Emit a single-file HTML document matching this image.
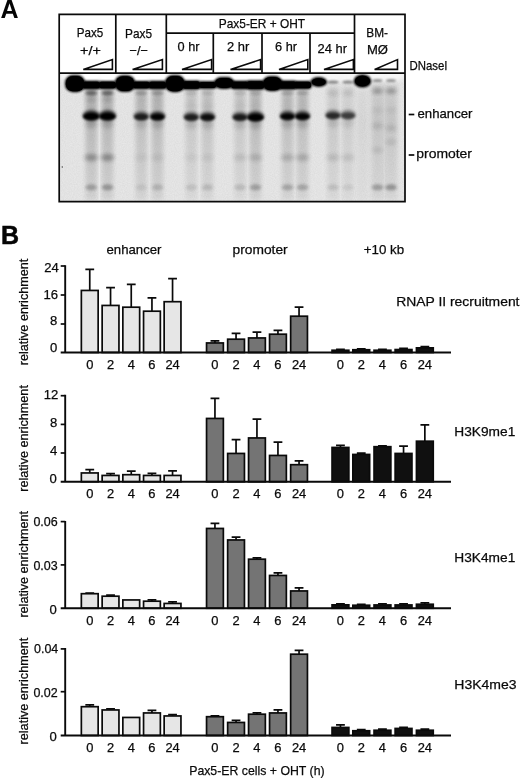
<!DOCTYPE html>
<html><head><meta charset="utf-8"><title>Figure</title>
<style>
html,body{margin:0;padding:0;background:#fff}
body{width:520px;height:778px;position:relative;overflow:hidden;font-family:"Liberation Sans", sans-serif}
</style></head><body>
<svg width="520" height="778" viewBox="0 0 520 778" style="position:absolute;left:0;top:0">
<defs>
<pattern id="dots" width="2" height="2" patternUnits="userSpaceOnUse"><rect width="2" height="2" fill="#e9e9e9"/><rect width="1" height="1" fill="#dcdcdc"/></pattern>
<linearGradient id="lg" x1="0" y1="0" x2="0" y2="1"><stop offset="0" stop-color="#000" stop-opacity="0.75"/><stop offset="0.3" stop-color="#000" stop-opacity="1"/><stop offset="0.65" stop-color="#000" stop-opacity="0.7"/><stop offset="1" stop-color="#000" stop-opacity="0.45"/></linearGradient>
<clipPath id="gelclip"><rect x="59.2" y="73.1" width="345.8" height="128.5"/></clipPath>
<filter id="noise" x="0" y="0" width="100%" height="100%"><feTurbulence type="fractalNoise" baseFrequency="0.9" numOctaves="2" seed="3"/><feColorMatrix type="matrix" values="0 0 0 0 0  0 0 0 0 0  0 0 0 0 0  1.6 0 0 0 -0.3"/></filter>
<filter id="b0" x="-50%" y="-50%" width="200%" height="200%"><feGaussianBlur stdDeviation="0.7"/></filter>
<filter id="b1" x="-50%" y="-50%" width="200%" height="200%"><feGaussianBlur stdDeviation="1.2"/></filter>
<filter id="b15" x="-50%" y="-50%" width="200%" height="200%"><feGaussianBlur stdDeviation="1.6"/></filter>
<filter id="b2" x="-50%" y="-50%" width="200%" height="200%"><feGaussianBlur stdDeviation="2"/></filter>
<filter id="b3" x="-50%" y="-50%" width="200%" height="200%"><feGaussianBlur stdDeviation="3.5"/></filter>
</defs>
<g clip-path="url(#gelclip)">
<rect x="59.2" y="73.1" width="345.8" height="128.5" fill="#e7e7e7"/>
<rect x="59.2" y="73.1" width="345.8" height="128.5" fill="#000" opacity="0.035" filter="url(#noise)"/>
<rect x="59.2" y="70.1" width="345.8" height="9" fill="#f6f6f6" filter="url(#b2)"/>
<ellipse cx="91.25" cy="76.3" rx="9" ry="5" fill="#fff" filter="url(#b1)"/>
<ellipse cx="107.5" cy="76.3" rx="9" ry="5" fill="#fff" filter="url(#b1)"/>
<ellipse cx="141.25" cy="76.3" rx="9" ry="5" fill="#fff" filter="url(#b1)"/>
<ellipse cx="157.5" cy="76.3" rx="9" ry="5" fill="#fff" filter="url(#b1)"/>
<ellipse cx="191.25" cy="76.3" rx="9" ry="5" fill="#fff" filter="url(#b1)"/>
<ellipse cx="207.5" cy="76.3" rx="9" ry="5" fill="#fff" filter="url(#b1)"/>
<ellipse cx="240" cy="76.3" rx="9" ry="5" fill="#fff" filter="url(#b1)"/>
<ellipse cx="255.5" cy="76.3" rx="9" ry="5" fill="#fff" filter="url(#b1)"/>
<ellipse cx="287.5" cy="76.3" rx="9" ry="5" fill="#fff" filter="url(#b1)"/>
<ellipse cx="302.5" cy="76.3" rx="9" ry="5" fill="#fff" filter="url(#b1)"/>
<ellipse cx="333" cy="77.5" rx="8" ry="4" fill="#f6f6f6" filter="url(#b2)"/>
<ellipse cx="348" cy="77.5" rx="8" ry="4" fill="#f6f6f6" filter="url(#b2)"/>
<ellipse cx="377.5" cy="77.5" rx="8" ry="4" fill="#f6f6f6" filter="url(#b2)"/>
<ellipse cx="391" cy="77.5" rx="8" ry="4" fill="#f6f6f6" filter="url(#b2)"/>
<rect x="98.575" y="90" width="1.6" height="110" fill="#fff" opacity="0.4" filter="url(#b0)"/>
<rect x="148.575" y="90" width="1.6" height="110" fill="#fff" opacity="0.18" filter="url(#b0)"/>
<rect x="198.575" y="90" width="1.6" height="110" fill="#fff" opacity="0.18" filter="url(#b0)"/>
<rect x="246.95" y="90" width="1.6" height="110" fill="#fff" opacity="0.18" filter="url(#b0)"/>
<rect x="294.2" y="90" width="1.6" height="110" fill="#fff" opacity="0.18" filter="url(#b0)"/>
<rect x="339.7" y="90" width="1.6" height="110" fill="#fff" opacity="0.18" filter="url(#b0)"/>
<rect x="383.45" y="90" width="1.6" height="110" fill="#fff" opacity="0.18" filter="url(#b0)"/>
<rect x="65" y="74.99999999999999" width="20" height="17.2" rx="8" ry="7.38" fill="#000" filter="url(#b1)"/>
<rect x="65.8" y="75.99999999999999" width="18.4" height="15.2" rx="7" ry="6.969999999999999" fill="#000" filter="url(#b0)"/>
<rect x="85.5" y="86" width="11.5" height="114" fill="url(#lg)" opacity="0.190" filter="url(#b2)"/>
<rect x="82.05" y="80.75" width="18.4" height="8.5" rx="3.5" ry="3.5" fill="#000" filter="url(#b1)"/>
<rect x="82.65" y="81.64999999999999" width="17.2" height="6.7" rx="2.7" ry="2.7" fill="#000" filter="url(#b0)"/>
<ellipse cx="91.25" cy="93" rx="6.2" ry="2.6" fill="#000" opacity="0.5" filter="url(#b15)"/>
<ellipse cx="91.25" cy="99" rx="6" ry="2.5" fill="#000" opacity="0.225" filter="url(#b2)"/>
<ellipse cx="91.25" cy="106" rx="6" ry="4" fill="#000" opacity="0.08" filter="url(#b2)"/>
<ellipse cx="91.25" cy="115.39999999999999" rx="8.736" ry="5.6000000000000005" fill="#000" opacity="0.6" filter="url(#b15)"/>
<ellipse cx="91.25" cy="116.3" rx="8.064000000000002" ry="3.696" fill="#000" opacity="1.0" filter="url(#b1)"/>
<ellipse cx="91.25" cy="123.3" rx="5.8" ry="5" fill="#000" opacity="0.16" filter="url(#b2)"/>
<ellipse cx="91.25" cy="157.5" rx="6.6" ry="3.4" fill="#000" opacity="0.3" filter="url(#b2)"/>
<ellipse cx="91.25" cy="187.3" rx="5.8" ry="3.0" fill="#000" opacity="0.24" filter="url(#b15)"/>
<rect x="101.75" y="86" width="11.5" height="114" fill="url(#lg)" opacity="0.190" filter="url(#b2)"/>
<rect x="98.3" y="80.95" width="18.4" height="8.1" rx="3.5" ry="3.5" fill="#000" filter="url(#b1)"/>
<rect x="98.9" y="81.85" width="17.2" height="6.3" rx="2.7" ry="2.7" fill="#000" filter="url(#b0)"/>
<ellipse cx="107.5" cy="93" rx="6.2" ry="2.6" fill="#000" opacity="0.5" filter="url(#b15)"/>
<ellipse cx="107.5" cy="99" rx="6" ry="2.5" fill="#000" opacity="0.225" filter="url(#b2)"/>
<ellipse cx="107.5" cy="106" rx="6" ry="4" fill="#000" opacity="0.08" filter="url(#b2)"/>
<ellipse cx="107.5" cy="115.39999999999999" rx="8.736" ry="5.6000000000000005" fill="#000" opacity="0.6" filter="url(#b15)"/>
<ellipse cx="107.5" cy="116.3" rx="8.064000000000002" ry="3.696" fill="#000" opacity="1.0" filter="url(#b1)"/>
<ellipse cx="107.5" cy="123.3" rx="5.8" ry="5" fill="#000" opacity="0.16" filter="url(#b2)"/>
<ellipse cx="107.5" cy="157.5" rx="6.6" ry="3.4" fill="#000" opacity="0.32" filter="url(#b2)"/>
<ellipse cx="107.5" cy="187.3" rx="5.8" ry="3.0" fill="#000" opacity="0.28" filter="url(#b15)"/>
<rect x="115" y="75.19999999999999" width="20" height="16.8" rx="8" ry="7.2" fill="#000" filter="url(#b1)"/>
<rect x="115.8" y="76.19999999999999" width="18.4" height="14.8" rx="7" ry="6.8" fill="#000" filter="url(#b0)"/>
<rect x="135.5" y="86" width="11.5" height="114" fill="url(#lg)" opacity="0.152" filter="url(#b2)"/>
<rect x="132.05" y="80.95" width="18.4" height="8.1" rx="3.5" ry="3.5" fill="#000" filter="url(#b1)"/>
<rect x="132.65" y="81.85" width="17.2" height="6.3" rx="2.7" ry="2.7" fill="#000" filter="url(#b0)"/>
<ellipse cx="141.25" cy="93" rx="6.2" ry="2.6" fill="#000" opacity="0.28" filter="url(#b15)"/>
<ellipse cx="141.25" cy="99" rx="6" ry="2.5" fill="#000" opacity="0.12600000000000003" filter="url(#b2)"/>
<ellipse cx="141.25" cy="106" rx="6" ry="4" fill="#000" opacity="0.08" filter="url(#b2)"/>
<ellipse cx="141.25" cy="115.89999999999999" rx="7.8" ry="5.0" fill="#000" opacity="0.432" filter="url(#b15)"/>
<ellipse cx="141.25" cy="116.8" rx="7.2" ry="3.3" fill="#000" opacity="0.72" filter="url(#b1)"/>
<ellipse cx="141.25" cy="123.8" rx="5.8" ry="5" fill="#000" opacity="0.1152" filter="url(#b2)"/>
<ellipse cx="141.25" cy="157.5" rx="6.6" ry="3.4" fill="#000" opacity="0.05" filter="url(#b2)"/>
<ellipse cx="141.25" cy="187.3" rx="5.8" ry="3.0" fill="#000" opacity="0.08" filter="url(#b15)"/>
<rect x="151.75" y="86" width="11.5" height="114" fill="url(#lg)" opacity="0.171" filter="url(#b2)"/>
<rect x="148.3" y="80.75" width="18.4" height="8.5" rx="3.5" ry="3.5" fill="#000" filter="url(#b1)"/>
<rect x="148.9" y="81.64999999999999" width="17.2" height="6.7" rx="2.7" ry="2.7" fill="#000" filter="url(#b0)"/>
<ellipse cx="157.5" cy="93" rx="6.2" ry="2.6" fill="#000" opacity="0.28" filter="url(#b15)"/>
<ellipse cx="157.5" cy="99" rx="6" ry="2.5" fill="#000" opacity="0.12600000000000003" filter="url(#b2)"/>
<ellipse cx="157.5" cy="106" rx="6" ry="4" fill="#000" opacity="0.08" filter="url(#b2)"/>
<ellipse cx="157.5" cy="115.89999999999999" rx="7.8" ry="5.0" fill="#000" opacity="0.57" filter="url(#b15)"/>
<ellipse cx="157.5" cy="116.8" rx="7.2" ry="3.3" fill="#000" opacity="0.95" filter="url(#b1)"/>
<ellipse cx="157.5" cy="123.8" rx="5.8" ry="5" fill="#000" opacity="0.152" filter="url(#b2)"/>
<ellipse cx="157.5" cy="157.5" rx="6.6" ry="3.4" fill="#000" opacity="0.07" filter="url(#b2)"/>
<ellipse cx="157.5" cy="187.3" rx="5.8" ry="3.0" fill="#000" opacity="0.15" filter="url(#b15)"/>
<rect x="165" y="74.99999999999999" width="20" height="17.2" rx="8" ry="7.38" fill="#000" filter="url(#b1)"/>
<rect x="165.8" y="75.99999999999999" width="18.4" height="15.2" rx="7" ry="6.969999999999999" fill="#000" filter="url(#b0)"/>
<rect x="185.5" y="86" width="11.5" height="114" fill="url(#lg)" opacity="0.114" filter="url(#b2)"/>
<rect x="182.05" y="80.45" width="18.4" height="9.1" rx="3.5" ry="3.5" fill="#000" filter="url(#b1)"/>
<rect x="182.65" y="81.35" width="17.2" height="7.3" rx="2.7" ry="2.7" fill="#000" filter="url(#b0)"/>
<ellipse cx="191.25" cy="93" rx="6.2" ry="2.6" fill="#000" opacity="0.14" filter="url(#b15)"/>
<ellipse cx="191.25" cy="99" rx="6" ry="2.5" fill="#000" opacity="0.06300000000000001" filter="url(#b2)"/>
<ellipse cx="191.25" cy="106" rx="6" ry="4" fill="#000" opacity="0.08" filter="url(#b2)"/>
<ellipse cx="191.25" cy="116.39999999999999" rx="7.8" ry="5.0" fill="#000" opacity="0.432" filter="url(#b15)"/>
<ellipse cx="191.25" cy="117.3" rx="7.2" ry="3.3" fill="#000" opacity="0.72" filter="url(#b1)"/>
<ellipse cx="191.25" cy="124.3" rx="5.8" ry="5" fill="#000" opacity="0.1152" filter="url(#b2)"/>
<ellipse cx="191.25" cy="157.5" rx="6.6" ry="3.4" fill="#000" opacity="0.05" filter="url(#b2)"/>
<ellipse cx="191.25" cy="187.3" rx="5.8" ry="3.0" fill="#000" opacity="0.1" filter="url(#b15)"/>
<rect x="201.75" y="86" width="11.5" height="114" fill="url(#lg)" opacity="0.133" filter="url(#b2)"/>
<rect x="198.3" y="81.15" width="18.4" height="7.7" rx="3.5" ry="3.5" fill="#000" filter="url(#b1)"/>
<rect x="198.9" y="82.05" width="17.2" height="5.9" rx="2.7" ry="2.7" fill="#000" filter="url(#b0)"/>
<ellipse cx="207.5" cy="93" rx="6.2" ry="2.6" fill="#000" opacity="0.14" filter="url(#b15)"/>
<ellipse cx="207.5" cy="99" rx="6" ry="2.5" fill="#000" opacity="0.06300000000000001" filter="url(#b2)"/>
<ellipse cx="207.5" cy="106" rx="6" ry="4" fill="#000" opacity="0.08" filter="url(#b2)"/>
<ellipse cx="207.5" cy="116.39999999999999" rx="7.8" ry="5.0" fill="#000" opacity="0.51" filter="url(#b15)"/>
<ellipse cx="207.5" cy="117.3" rx="7.2" ry="3.3" fill="#000" opacity="0.85" filter="url(#b1)"/>
<ellipse cx="207.5" cy="124.3" rx="5.8" ry="5" fill="#000" opacity="0.136" filter="url(#b2)"/>
<ellipse cx="207.5" cy="157.5" rx="6.6" ry="3.4" fill="#000" opacity="0.06" filter="url(#b2)"/>
<ellipse cx="207.5" cy="187.3" rx="5.8" ry="3.0" fill="#000" opacity="0.13" filter="url(#b15)"/>
<rect x="214.25" y="77.0" width="20" height="12.0" rx="8" ry="5.04" fill="#000" filter="url(#b1)"/>
<rect x="215.05" y="78.0" width="18.4" height="10.0" rx="7" ry="4.76" fill="#000" filter="url(#b0)"/>
<rect x="234.25" y="86" width="11.5" height="114" fill="url(#lg)" opacity="0.114" filter="url(#b2)"/>
<rect x="230.8" y="80.75" width="18.4" height="8.5" rx="3.5" ry="3.5" fill="#000" filter="url(#b1)"/>
<rect x="231.4" y="81.64999999999999" width="17.2" height="6.7" rx="2.7" ry="2.7" fill="#000" filter="url(#b0)"/>
<ellipse cx="240" cy="93" rx="6.2" ry="2.6" fill="#000" opacity="0.14" filter="url(#b15)"/>
<ellipse cx="240" cy="99" rx="6" ry="2.5" fill="#000" opacity="0.06300000000000001" filter="url(#b2)"/>
<ellipse cx="240" cy="106" rx="6" ry="4" fill="#000" opacity="0.08" filter="url(#b2)"/>
<ellipse cx="240" cy="116.39999999999999" rx="7.8" ry="5.0" fill="#000" opacity="0.44999999999999996" filter="url(#b15)"/>
<ellipse cx="240" cy="117.3" rx="7.2" ry="3.3" fill="#000" opacity="0.75" filter="url(#b1)"/>
<ellipse cx="240" cy="124.3" rx="5.8" ry="5" fill="#000" opacity="0.12" filter="url(#b2)"/>
<ellipse cx="240" cy="157.5" rx="6.6" ry="3.4" fill="#000" opacity="0.1" filter="url(#b2)"/>
<ellipse cx="240" cy="187.3" rx="5.8" ry="3.0" fill="#000" opacity="0.13" filter="url(#b15)"/>
<rect x="249.75" y="86" width="11.5" height="114" fill="url(#lg)" opacity="0.171" filter="url(#b2)"/>
<rect x="246.3" y="80.35" width="18.4" height="9.3" rx="3.5" ry="3.5" fill="#000" filter="url(#b1)"/>
<rect x="246.9" y="81.24999999999999" width="17.2" height="7.500000000000001" rx="2.7" ry="2.7" fill="#000" filter="url(#b0)"/>
<ellipse cx="255.5" cy="93" rx="6.2" ry="2.6" fill="#000" opacity="0.18" filter="url(#b15)"/>
<ellipse cx="255.5" cy="99" rx="6" ry="2.5" fill="#000" opacity="0.081" filter="url(#b2)"/>
<ellipse cx="255.5" cy="106" rx="6" ry="4" fill="#000" opacity="0.08" filter="url(#b2)"/>
<ellipse cx="255.5" cy="116.39999999999999" rx="8.736" ry="5.6000000000000005" fill="#000" opacity="0.6" filter="url(#b15)"/>
<ellipse cx="255.5" cy="117.3" rx="8.064000000000002" ry="3.696" fill="#000" opacity="1.0" filter="url(#b1)"/>
<ellipse cx="255.5" cy="124.3" rx="5.8" ry="5" fill="#000" opacity="0.16" filter="url(#b2)"/>
<ellipse cx="255.5" cy="157.5" rx="6.6" ry="3.4" fill="#000" opacity="0.15" filter="url(#b2)"/>
<ellipse cx="255.5" cy="187.3" rx="5.8" ry="3.0" fill="#000" opacity="0.24" filter="url(#b15)"/>
<rect x="262.5" y="75.99999999999999" width="20" height="15.200000000000001" rx="8" ry="6.48" fill="#000" filter="url(#b1)"/>
<rect x="263.3" y="76.99999999999999" width="18.4" height="13.200000000000001" rx="7" ry="6.12" fill="#000" filter="url(#b0)"/>
<rect x="281.75" y="86" width="11.5" height="114" fill="url(#lg)" opacity="0.152" filter="url(#b2)"/>
<rect x="278.3" y="80.55" width="18.4" height="8.9" rx="3.5" ry="3.5" fill="#000" filter="url(#b1)"/>
<rect x="278.9" y="81.44999999999999" width="17.2" height="7.1000000000000005" rx="2.7" ry="2.7" fill="#000" filter="url(#b0)"/>
<ellipse cx="287.5" cy="93" rx="6.2" ry="2.6" fill="#000" opacity="0.22" filter="url(#b15)"/>
<ellipse cx="287.5" cy="99" rx="6" ry="2.5" fill="#000" opacity="0.099" filter="url(#b2)"/>
<ellipse cx="287.5" cy="106" rx="6" ry="4" fill="#000" opacity="0.08" filter="url(#b2)"/>
<ellipse cx="287.5" cy="115.6" rx="7.8" ry="5.0" fill="#000" opacity="0.57" filter="url(#b15)"/>
<ellipse cx="287.5" cy="116.5" rx="7.2" ry="3.3" fill="#000" opacity="0.95" filter="url(#b1)"/>
<ellipse cx="287.5" cy="123.5" rx="5.8" ry="5" fill="#000" opacity="0.152" filter="url(#b2)"/>
<ellipse cx="287.5" cy="157.5" rx="6.6" ry="3.4" fill="#000" opacity="0.17" filter="url(#b2)"/>
<ellipse cx="287.5" cy="187.3" rx="5.8" ry="3.0" fill="#000" opacity="0.22" filter="url(#b15)"/>
<rect x="296.75" y="86" width="11.5" height="114" fill="url(#lg)" opacity="0.152" filter="url(#b2)"/>
<rect x="293.3" y="80.95" width="18.4" height="8.1" rx="3.5" ry="3.5" fill="#000" filter="url(#b1)"/>
<rect x="293.9" y="81.85" width="17.2" height="6.3" rx="2.7" ry="2.7" fill="#000" filter="url(#b0)"/>
<ellipse cx="302.5" cy="93" rx="6.2" ry="2.6" fill="#000" opacity="0.22" filter="url(#b15)"/>
<ellipse cx="302.5" cy="99" rx="6" ry="2.5" fill="#000" opacity="0.099" filter="url(#b2)"/>
<ellipse cx="302.5" cy="106" rx="6" ry="4" fill="#000" opacity="0.08" filter="url(#b2)"/>
<ellipse cx="302.5" cy="115.6" rx="7.8" ry="5.0" fill="#000" opacity="0.582" filter="url(#b15)"/>
<ellipse cx="302.5" cy="116.5" rx="7.2" ry="3.3" fill="#000" opacity="0.97" filter="url(#b1)"/>
<ellipse cx="302.5" cy="123.5" rx="5.8" ry="5" fill="#000" opacity="0.1552" filter="url(#b2)"/>
<ellipse cx="302.5" cy="157.5" rx="6.6" ry="3.4" fill="#000" opacity="0.19" filter="url(#b2)"/>
<ellipse cx="302.5" cy="187.3" rx="5.8" ry="3.0" fill="#000" opacity="0.22" filter="url(#b15)"/>
<ellipse cx="318.75" cy="82" rx="8.3" ry="5.0" fill="#000" opacity="1" filter="url(#b1)"/>
<ellipse cx="318.75" cy="82" rx="7" ry="3.8" fill="#000" opacity="1" filter="url(#b0)"/>
<rect x="327.25" y="86" width="11.5" height="114" fill="url(#lg)" opacity="0.114" filter="url(#b2)"/>
<ellipse cx="333" cy="82" rx="5.5" ry="1.6" fill="#000" opacity="0.45" filter="url(#b1)"/>
<ellipse cx="333" cy="93" rx="6" ry="3" fill="#000" opacity="0.1" filter="url(#b2)"/>
<ellipse cx="333" cy="114.8" rx="7.8" ry="5.0" fill="#000" opacity="0.396" filter="url(#b15)"/>
<ellipse cx="333" cy="115.7" rx="7.2" ry="3.3" fill="#000" opacity="0.66" filter="url(#b1)"/>
<ellipse cx="333" cy="122.7" rx="5.8" ry="5" fill="#000" opacity="0.10560000000000001" filter="url(#b2)"/>
<ellipse cx="333" cy="157.5" rx="6.6" ry="3.4" fill="#000" opacity="0.12" filter="url(#b2)"/>
<ellipse cx="333" cy="187.3" rx="5.8" ry="3.0" fill="#000" opacity="0.11" filter="url(#b15)"/>
<rect x="342.25" y="86" width="11.5" height="114" fill="url(#lg)" opacity="0.095" filter="url(#b2)"/>
<ellipse cx="348" cy="82" rx="5.5" ry="1.6" fill="#000" opacity="0.45" filter="url(#b1)"/>
<ellipse cx="348" cy="93" rx="6" ry="3" fill="#000" opacity="0.1" filter="url(#b2)"/>
<ellipse cx="348" cy="114.8" rx="7.8" ry="5.0" fill="#000" opacity="0.33" filter="url(#b15)"/>
<ellipse cx="348" cy="115.7" rx="7.2" ry="3.3" fill="#000" opacity="0.55" filter="url(#b1)"/>
<ellipse cx="348" cy="122.7" rx="5.8" ry="5" fill="#000" opacity="0.08800000000000001" filter="url(#b2)"/>
<ellipse cx="348" cy="157.5" rx="6.6" ry="3.4" fill="#000" opacity="0.1" filter="url(#b2)"/>
<ellipse cx="348" cy="187.3" rx="5.8" ry="3.0" fill="#000" opacity="0.07" filter="url(#b15)"/>
<rect x="356.5" y="90" width="12" height="110" fill="url(#lg)" opacity="0.057" filter="url(#b2)"/>
<ellipse cx="362.5" cy="81" rx="8.8" ry="6.6" fill="#000" opacity="1" filter="url(#b1)"/>
<ellipse cx="362.5" cy="81" rx="7.6" ry="5.4" fill="#000" opacity="1" filter="url(#b0)"/>
<rect x="371.25" y="84" width="12.5" height="116" fill="url(#lg)" opacity="0.133" filter="url(#b2)"/>
<ellipse cx="377.5" cy="80.5" rx="5" ry="1.5" fill="#000" opacity="0.4" filter="url(#b1)"/>
<ellipse cx="377.5" cy="91" rx="5.5" ry="2.6" fill="#000" opacity="0.32" filter="url(#b2)"/>
<ellipse cx="377.5" cy="126" rx="5.5" ry="3" fill="#000" opacity="0.12" filter="url(#b2)"/>
<ellipse cx="377.5" cy="150" rx="5.5" ry="3" fill="#000" opacity="0.1" filter="url(#b2)"/>
<ellipse cx="377.5" cy="110" rx="5.5" ry="3" fill="#000" opacity="0.06" filter="url(#b2)"/>
<ellipse cx="377.5" cy="187.3" rx="5.8" ry="3.0" fill="#000" opacity="0.26" filter="url(#b15)"/>
<rect x="384.75" y="84" width="12.5" height="116" fill="url(#lg)" opacity="0.133" filter="url(#b2)"/>
<ellipse cx="391" cy="80.5" rx="5" ry="1.5" fill="#000" opacity="0.4" filter="url(#b1)"/>
<ellipse cx="391" cy="91" rx="5.5" ry="2.6" fill="#000" opacity="0.32" filter="url(#b2)"/>
<ellipse cx="391" cy="128" rx="5.5" ry="3" fill="#000" opacity="0.12" filter="url(#b2)"/>
<ellipse cx="391" cy="142" rx="5.5" ry="3" fill="#000" opacity="0.1" filter="url(#b2)"/>
<ellipse cx="391" cy="110" rx="5.5" ry="3" fill="#000" opacity="0.06" filter="url(#b2)"/>
<ellipse cx="391" cy="187.3" rx="5.8" ry="3.0" fill="#000" opacity="0.3" filter="url(#b15)"/>
</g>
<circle cx="62.3" cy="167" r="0.7" fill="#444"/>
<path d="M59.2 14.3H405V201.6H59.2Z" stroke="#0a0a0a" stroke-width="1.7" fill="none"/>
<path d="M59.2 73.1H405" stroke="#0a0a0a" stroke-width="1.7" fill="none"/>
<path d="M115.8 14.3V73.1" stroke="#0a0a0a" stroke-width="1.7" fill="none"/>
<path d="M166.3 14.3V73.1" stroke="#0a0a0a" stroke-width="1.7" fill="none"/>
<path d="M354.5 14.3V73.1" stroke="#0a0a0a" stroke-width="1.7" fill="none"/>
<path d="M166.3 33.2H354.5" stroke="#0a0a0a" stroke-width="1.7" fill="none"/>
<path d="M213.3 33.2V73.1" stroke="#0a0a0a" stroke-width="1.7" fill="none"/>
<path d="M262 33.2V73.1" stroke="#0a0a0a" stroke-width="1.7" fill="none"/>
<path d="M310 33.2V73.1" stroke="#0a0a0a" stroke-width="1.7" fill="none"/>
<path d="M83.3 69.4L112.4 59.6V69.4Z" stroke="#0a0a0a" stroke-width="1.6" fill="#fff" stroke-linejoin="miter"/>
<path d="M132.6 69.4L162.4 59.6V69.4Z" stroke="#0a0a0a" stroke-width="1.6" fill="#fff" stroke-linejoin="miter"/>
<path d="M182 69.4L211.6 59.6V69.4Z" stroke="#0a0a0a" stroke-width="1.6" fill="#fff" stroke-linejoin="miter"/>
<path d="M230.5 69.4L260.6 59.6V69.4Z" stroke="#0a0a0a" stroke-width="1.6" fill="#fff" stroke-linejoin="miter"/>
<path d="M279 69.4L307.8 59.6V69.4Z" stroke="#0a0a0a" stroke-width="1.6" fill="#fff" stroke-linejoin="miter"/>
<path d="M324 69.4L353.4 59.6V69.4Z" stroke="#0a0a0a" stroke-width="1.6" fill="#fff" stroke-linejoin="miter"/>
<path d="M374.6 69.4L397.5 59.6V69.4Z" stroke="#0a0a0a" stroke-width="1.6" fill="#fff" stroke-linejoin="miter"/>
<path d="M408.7 114.5H414.3" stroke="#0a0a0a" stroke-width="1.7" fill="none"/>
<path d="M408.7 155H414.3" stroke="#0a0a0a" stroke-width="1.7" fill="none"/>
<g font-family='"Liberation Sans", sans-serif' fill="#0a0a0a" stroke="#0a0a0a" stroke-width="0.25">
<text x="76.8" y="37" font-size="13.5" textLength="26.5" lengthAdjust="spacingAndGlyphs">Pax5</text>
<text x="80" y="54.8" font-size="13.5" textLength="20.8" lengthAdjust="spacingAndGlyphs">+/+</text>
<text x="125" y="38.2" font-size="13.5" textLength="27" lengthAdjust="spacingAndGlyphs">Pax5</text>
<text x="129.5" y="54.8" font-size="13.5" textLength="18.5" lengthAdjust="spacingAndGlyphs">−/−</text>
<text x="218.8" y="27.5" font-size="13.5" textLength="86.2" lengthAdjust="spacingAndGlyphs">Pax5-ER + OHT</text>
<text x="177.5" y="51.3" font-size="13.5" textLength="22" lengthAdjust="spacingAndGlyphs">0 hr</text>
<text x="227" y="51.3" font-size="13.5" textLength="22.3" lengthAdjust="spacingAndGlyphs">2 hr</text>
<text x="275" y="51.3" font-size="13.5" textLength="22" lengthAdjust="spacingAndGlyphs">6 hr</text>
<text x="317.5" y="52.5" font-size="13.5" textLength="29.5" lengthAdjust="spacingAndGlyphs">24 hr</text>
<text x="366.3" y="37" font-size="13.5" textLength="21.7" lengthAdjust="spacingAndGlyphs">BM-</text>
<text x="367" y="53.8" font-size="13.5" textLength="21" lengthAdjust="spacingAndGlyphs">MØ</text>
<text x="409.5" y="70" font-size="13.5" textLength="38" lengthAdjust="spacingAndGlyphs">DNaseI</text>
<text x="417.5" y="117.5" font-size="13.5" textLength="55" lengthAdjust="spacingAndGlyphs">enhancer</text>
<text x="416.3" y="158" font-size="13.5" textLength="55.7" lengthAdjust="spacingAndGlyphs">promoter</text>
</g>
<g font-family='"Liberation Sans", sans-serif' font-size="12.9" fill="#0a0a0a" stroke="#0a0a0a" stroke-width="0.25">
<text x="106.5" y="254.3" font-size="13.5" textLength="55" lengthAdjust="spacingAndGlyphs">enhancer</text>
<text x="232.6" y="254" font-size="13.5" textLength="55.1" lengthAdjust="spacingAndGlyphs">promoter</text>
<text x="363.8" y="254" font-size="13.5" textLength="40.4" lengthAdjust="spacingAndGlyphs">+10 kb</text>
<path d="M89.75 290.45V269.45M85.35 269.45H94.15" stroke="#0a0a0a" stroke-width="1.7" fill="none"/>
<rect x="81.35" y="290.45" width="16.8" height="62.05" fill="#e6e6e6" stroke="#0a0a0a" stroke-width="1.7"/>
<text x="89.75" y="369.00" text-anchor="middle">0</text>
<path d="M110.55 305.45V287.65M106.15 287.65H114.95" stroke="#0a0a0a" stroke-width="1.7" fill="none"/>
<rect x="102.15" y="305.45" width="16.8" height="47.05" fill="#e6e6e6" stroke="#0a0a0a" stroke-width="1.7"/>
<text x="110.55" y="369.00" text-anchor="middle">2</text>
<path d="M131.25 307.20V284.35M126.85 284.35H135.65" stroke="#0a0a0a" stroke-width="1.7" fill="none"/>
<rect x="122.85" y="307.20" width="16.8" height="45.30" fill="#e6e6e6" stroke="#0a0a0a" stroke-width="1.7"/>
<text x="131.25" y="369.00" text-anchor="middle">4</text>
<path d="M151.95 311.20V297.95M147.55 297.95H156.35" stroke="#0a0a0a" stroke-width="1.7" fill="none"/>
<rect x="143.55" y="311.20" width="16.8" height="41.30" fill="#e6e6e6" stroke="#0a0a0a" stroke-width="1.7"/>
<text x="151.95" y="369.00" text-anchor="middle">6</text>
<path d="M172.55 301.70V278.70M168.15 278.70H176.95" stroke="#0a0a0a" stroke-width="1.7" fill="none"/>
<rect x="164.15" y="301.70" width="16.8" height="50.80" fill="#e6e6e6" stroke="#0a0a0a" stroke-width="1.7"/>
<text x="172.55" y="369.00" text-anchor="middle">24</text>
<path d="M214.95 342.95V340.95M210.55 340.95H219.35" stroke="#0a0a0a" stroke-width="1.7" fill="none"/>
<rect x="206.55" y="342.95" width="16.8" height="9.55" fill="#747474" stroke="#0a0a0a" stroke-width="1.7"/>
<text x="214.95" y="369.00" text-anchor="middle">0</text>
<path d="M236.05 339.20V333.45M231.65 333.45H240.45" stroke="#0a0a0a" stroke-width="1.7" fill="none"/>
<rect x="227.65" y="339.20" width="16.8" height="13.30" fill="#747474" stroke="#0a0a0a" stroke-width="1.7"/>
<text x="236.05" y="369.00" text-anchor="middle">2</text>
<path d="M256.95 337.95V332.20M252.55 332.20H261.35" stroke="#0a0a0a" stroke-width="1.7" fill="none"/>
<rect x="248.55" y="337.95" width="16.8" height="14.55" fill="#747474" stroke="#0a0a0a" stroke-width="1.7"/>
<text x="256.95" y="369.00" text-anchor="middle">4</text>
<path d="M277.95 334.20V330.45M273.55 330.45H282.35" stroke="#0a0a0a" stroke-width="1.7" fill="none"/>
<rect x="269.55" y="334.20" width="16.8" height="18.30" fill="#747474" stroke="#0a0a0a" stroke-width="1.7"/>
<text x="277.95" y="369.00" text-anchor="middle">6</text>
<path d="M299.05 316.20V307.20M294.65 307.20H303.45" stroke="#0a0a0a" stroke-width="1.7" fill="none"/>
<rect x="290.65" y="316.20" width="16.8" height="36.30" fill="#747474" stroke="#0a0a0a" stroke-width="1.7"/>
<text x="299.05" y="369.00" text-anchor="middle">24</text>
<path d="M340.45 350.25V349.35M336.05 349.35H344.85" stroke="#0a0a0a" stroke-width="1.7" fill="none"/>
<rect x="332.05" y="350.25" width="16.8" height="2.25" fill="#101010" stroke="#0a0a0a" stroke-width="1.7"/>
<text x="340.45" y="369.00" text-anchor="middle">0</text>
<path d="M361.25 349.75V348.75M356.85 348.75H365.65" stroke="#0a0a0a" stroke-width="1.7" fill="none"/>
<rect x="352.85" y="349.75" width="16.8" height="2.75" fill="#101010" stroke="#0a0a0a" stroke-width="1.7"/>
<text x="361.25" y="369.00" text-anchor="middle">2</text>
<path d="M382.45 350.25V349.35M378.05 349.35H386.85" stroke="#0a0a0a" stroke-width="1.7" fill="none"/>
<rect x="374.05" y="350.25" width="16.8" height="2.25" fill="#101010" stroke="#0a0a0a" stroke-width="1.7"/>
<text x="382.45" y="369.00" text-anchor="middle">4</text>
<path d="M403.55 349.55V348.35M399.15 348.35H407.95" stroke="#0a0a0a" stroke-width="1.7" fill="none"/>
<rect x="395.15" y="349.55" width="16.8" height="2.95" fill="#101010" stroke="#0a0a0a" stroke-width="1.7"/>
<text x="403.55" y="369.00" text-anchor="middle">6</text>
<path d="M424.85 347.85V346.55M420.45 346.55H429.25" stroke="#0a0a0a" stroke-width="1.7" fill="none"/>
<rect x="416.45" y="347.85" width="16.8" height="4.65" fill="#101010" stroke="#0a0a0a" stroke-width="1.7"/>
<text x="424.85" y="369.00" text-anchor="middle">24</text>
<path d="M65.2 265.20V352.50M60.7 352.50H451" stroke="#0a0a0a" stroke-width="1.9" fill="none"/>
<path d="M60.7 266.00H65.2" stroke="#0a0a0a" stroke-width="1.7"/>
<text x="58.80" y="271.60" text-anchor="end" font-size="13.1">24</text>
<path d="M60.7 295.00H65.2" stroke="#0a0a0a" stroke-width="1.7"/>
<text x="58.00" y="298.50" text-anchor="end" font-size="13.1">16</text>
<path d="M60.7 324.00H65.2" stroke="#0a0a0a" stroke-width="1.7"/>
<text x="57.40" y="325.20" text-anchor="end" font-size="13.1">8</text>
<text x="57.20" y="352.30" text-anchor="end" font-size="13.1">0</text>
<text transform="translate(27.6 312.00) rotate(-90)" text-anchor="middle" font-size="12" textLength="106.6" lengthAdjust="spacingAndGlyphs">relative enrichment</text>
<text x="396.2" y="306.2" font-size="13.5" textLength="123.3" lengthAdjust="spacingAndGlyphs">RNAP II recruitment</text>
<path d="M89.75 472.95V469.70M85.35 469.70H94.15" stroke="#0a0a0a" stroke-width="1.7" fill="none"/>
<rect x="81.35" y="472.95" width="16.8" height="8.80" fill="#e6e6e6" stroke="#0a0a0a" stroke-width="1.7"/>
<text x="89.75" y="498.25" text-anchor="middle">0</text>
<path d="M110.55 475.45V473.70M106.15 473.70H114.95" stroke="#0a0a0a" stroke-width="1.7" fill="none"/>
<rect x="102.15" y="475.45" width="16.8" height="6.30" fill="#e6e6e6" stroke="#0a0a0a" stroke-width="1.7"/>
<text x="110.55" y="498.25" text-anchor="middle">2</text>
<path d="M131.25 474.70V471.20M126.85 471.20H135.65" stroke="#0a0a0a" stroke-width="1.7" fill="none"/>
<rect x="122.85" y="474.70" width="16.8" height="7.05" fill="#e6e6e6" stroke="#0a0a0a" stroke-width="1.7"/>
<text x="131.25" y="498.25" text-anchor="middle">4</text>
<path d="M151.95 475.45V473.45M147.55 473.45H156.35" stroke="#0a0a0a" stroke-width="1.7" fill="none"/>
<rect x="143.55" y="475.45" width="16.8" height="6.30" fill="#e6e6e6" stroke="#0a0a0a" stroke-width="1.7"/>
<text x="151.95" y="498.25" text-anchor="middle">6</text>
<path d="M172.55 475.45V470.95M168.15 470.95H176.95" stroke="#0a0a0a" stroke-width="1.7" fill="none"/>
<rect x="164.15" y="475.45" width="16.8" height="6.30" fill="#e6e6e6" stroke="#0a0a0a" stroke-width="1.7"/>
<text x="172.55" y="498.25" text-anchor="middle">24</text>
<path d="M214.95 418.45V398.45M210.55 398.45H219.35" stroke="#0a0a0a" stroke-width="1.7" fill="none"/>
<rect x="206.55" y="418.45" width="16.8" height="63.30" fill="#747474" stroke="#0a0a0a" stroke-width="1.7"/>
<text x="214.95" y="498.25" text-anchor="middle">0</text>
<path d="M236.05 453.45V439.70M231.65 439.70H240.45" stroke="#0a0a0a" stroke-width="1.7" fill="none"/>
<rect x="227.65" y="453.45" width="16.8" height="28.30" fill="#747474" stroke="#0a0a0a" stroke-width="1.7"/>
<text x="236.05" y="498.25" text-anchor="middle">2</text>
<path d="M256.95 437.95V419.20M252.55 419.20H261.35" stroke="#0a0a0a" stroke-width="1.7" fill="none"/>
<rect x="248.55" y="437.95" width="16.8" height="43.80" fill="#747474" stroke="#0a0a0a" stroke-width="1.7"/>
<text x="256.95" y="498.25" text-anchor="middle">4</text>
<path d="M277.95 455.45V442.20M273.55 442.20H282.35" stroke="#0a0a0a" stroke-width="1.7" fill="none"/>
<rect x="269.55" y="455.45" width="16.8" height="26.30" fill="#747474" stroke="#0a0a0a" stroke-width="1.7"/>
<text x="277.95" y="498.25" text-anchor="middle">6</text>
<path d="M299.05 464.70V460.95M294.65 460.95H303.45" stroke="#0a0a0a" stroke-width="1.7" fill="none"/>
<rect x="290.65" y="464.70" width="16.8" height="17.05" fill="#747474" stroke="#0a0a0a" stroke-width="1.7"/>
<text x="299.05" y="498.25" text-anchor="middle">24</text>
<path d="M340.45 447.45V445.45M336.05 445.45H344.85" stroke="#0a0a0a" stroke-width="1.7" fill="none"/>
<rect x="332.05" y="447.45" width="16.8" height="34.30" fill="#101010" stroke="#0a0a0a" stroke-width="1.7"/>
<text x="340.45" y="498.25" text-anchor="middle">0</text>
<path d="M361.25 454.45V453.20M356.85 453.20H365.65" stroke="#0a0a0a" stroke-width="1.7" fill="none"/>
<rect x="352.85" y="454.45" width="16.8" height="27.30" fill="#101010" stroke="#0a0a0a" stroke-width="1.7"/>
<text x="361.25" y="498.25" text-anchor="middle">2</text>
<path d="M382.45 446.70V445.95M378.05 445.95H386.85" stroke="#0a0a0a" stroke-width="1.7" fill="none"/>
<rect x="374.05" y="446.70" width="16.8" height="35.05" fill="#101010" stroke="#0a0a0a" stroke-width="1.7"/>
<text x="382.45" y="498.25" text-anchor="middle">4</text>
<path d="M403.55 453.45V446.20M399.15 446.20H407.95" stroke="#0a0a0a" stroke-width="1.7" fill="none"/>
<rect x="395.15" y="453.45" width="16.8" height="28.30" fill="#101010" stroke="#0a0a0a" stroke-width="1.7"/>
<text x="403.55" y="498.25" text-anchor="middle">6</text>
<path d="M424.85 441.20V424.95M420.45 424.95H429.25" stroke="#0a0a0a" stroke-width="1.7" fill="none"/>
<rect x="416.45" y="441.20" width="16.8" height="40.55" fill="#101010" stroke="#0a0a0a" stroke-width="1.7"/>
<text x="424.85" y="498.25" text-anchor="middle">24</text>
<path d="M65.2 394.70V481.75M60.7 481.75H451" stroke="#0a0a0a" stroke-width="1.9" fill="none"/>
<path d="M60.7 395.70H65.2" stroke="#0a0a0a" stroke-width="1.7"/>
<text x="58.30" y="398.80" text-anchor="end" font-size="13.1">12</text>
<path d="M60.7 424.40H65.2" stroke="#0a0a0a" stroke-width="1.7"/>
<text x="57.40" y="426.70" text-anchor="end" font-size="13.1">8</text>
<path d="M60.7 453.00H65.2" stroke="#0a0a0a" stroke-width="1.7"/>
<text x="57.40" y="454.80" text-anchor="end" font-size="13.1">4</text>
<text x="56.90" y="482.70" text-anchor="end" font-size="13.1">0</text>
<text transform="translate(27.6 438.40) rotate(-90)" text-anchor="middle" font-size="12" textLength="106.6" lengthAdjust="spacingAndGlyphs">relative enrichment</text>
<text x="454.3" y="435.5" font-size="13.5" textLength="61" lengthAdjust="spacingAndGlyphs">H3K9me1</text>
<path d="M89.75 593.70V593.20M85.35 593.20H94.15" stroke="#0a0a0a" stroke-width="1.7" fill="none"/>
<rect x="81.35" y="593.70" width="16.8" height="14.55" fill="#e6e6e6" stroke="#0a0a0a" stroke-width="1.7"/>
<text x="89.75" y="624.75" text-anchor="middle">0</text>
<path d="M110.55 596.20V595.20M106.15 595.20H114.95" stroke="#0a0a0a" stroke-width="1.7" fill="none"/>
<rect x="102.15" y="596.20" width="16.8" height="12.05" fill="#e6e6e6" stroke="#0a0a0a" stroke-width="1.7"/>
<text x="110.55" y="624.75" text-anchor="middle">2</text>
<rect x="122.85" y="599.95" width="16.8" height="8.30" fill="#e6e6e6" stroke="#0a0a0a" stroke-width="1.7"/>
<text x="131.25" y="624.75" text-anchor="middle">4</text>
<path d="M151.95 601.20V599.95M147.55 599.95H156.35" stroke="#0a0a0a" stroke-width="1.7" fill="none"/>
<rect x="143.55" y="601.20" width="16.8" height="7.05" fill="#e6e6e6" stroke="#0a0a0a" stroke-width="1.7"/>
<text x="151.95" y="624.75" text-anchor="middle">6</text>
<path d="M172.55 603.45V601.95M168.15 601.95H176.95" stroke="#0a0a0a" stroke-width="1.7" fill="none"/>
<rect x="164.15" y="603.45" width="16.8" height="4.80" fill="#e6e6e6" stroke="#0a0a0a" stroke-width="1.7"/>
<text x="172.55" y="624.75" text-anchor="middle">24</text>
<path d="M214.95 528.45V523.45M210.55 523.45H219.35" stroke="#0a0a0a" stroke-width="1.7" fill="none"/>
<rect x="206.55" y="528.45" width="16.8" height="79.80" fill="#747474" stroke="#0a0a0a" stroke-width="1.7"/>
<text x="214.95" y="624.75" text-anchor="middle">0</text>
<path d="M236.05 539.95V537.20M231.65 537.20H240.45" stroke="#0a0a0a" stroke-width="1.7" fill="none"/>
<rect x="227.65" y="539.95" width="16.8" height="68.30" fill="#747474" stroke="#0a0a0a" stroke-width="1.7"/>
<text x="236.05" y="624.75" text-anchor="middle">2</text>
<path d="M256.95 559.20V557.95M252.55 557.95H261.35" stroke="#0a0a0a" stroke-width="1.7" fill="none"/>
<rect x="248.55" y="559.20" width="16.8" height="49.05" fill="#747474" stroke="#0a0a0a" stroke-width="1.7"/>
<text x="256.95" y="624.75" text-anchor="middle">4</text>
<path d="M277.95 575.45V572.95M273.55 572.95H282.35" stroke="#0a0a0a" stroke-width="1.7" fill="none"/>
<rect x="269.55" y="575.45" width="16.8" height="32.80" fill="#747474" stroke="#0a0a0a" stroke-width="1.7"/>
<text x="277.95" y="624.75" text-anchor="middle">6</text>
<path d="M299.05 590.95V587.95M294.65 587.95H303.45" stroke="#0a0a0a" stroke-width="1.7" fill="none"/>
<rect x="290.65" y="590.95" width="16.8" height="17.30" fill="#747474" stroke="#0a0a0a" stroke-width="1.7"/>
<text x="299.05" y="624.75" text-anchor="middle">24</text>
<path d="M340.45 604.85V603.75M336.05 603.75H344.85" stroke="#0a0a0a" stroke-width="1.7" fill="none"/>
<rect x="332.05" y="604.85" width="16.8" height="3.40" fill="#101010" stroke="#0a0a0a" stroke-width="1.7"/>
<text x="340.45" y="624.75" text-anchor="middle">0</text>
<path d="M361.25 605.25V604.25M356.85 604.25H365.65" stroke="#0a0a0a" stroke-width="1.7" fill="none"/>
<rect x="352.85" y="605.25" width="16.8" height="3.00" fill="#101010" stroke="#0a0a0a" stroke-width="1.7"/>
<text x="361.25" y="624.75" text-anchor="middle">2</text>
<path d="M382.45 604.95V603.85M378.05 603.85H386.85" stroke="#0a0a0a" stroke-width="1.7" fill="none"/>
<rect x="374.05" y="604.95" width="16.8" height="3.30" fill="#101010" stroke="#0a0a0a" stroke-width="1.7"/>
<text x="382.45" y="624.75" text-anchor="middle">4</text>
<path d="M403.55 604.95V603.85M399.15 603.85H407.95" stroke="#0a0a0a" stroke-width="1.7" fill="none"/>
<rect x="395.15" y="604.95" width="16.8" height="3.30" fill="#101010" stroke="#0a0a0a" stroke-width="1.7"/>
<text x="403.55" y="624.75" text-anchor="middle">6</text>
<path d="M424.85 604.25V602.95M420.45 602.95H429.25" stroke="#0a0a0a" stroke-width="1.7" fill="none"/>
<rect x="416.45" y="604.25" width="16.8" height="4.00" fill="#101010" stroke="#0a0a0a" stroke-width="1.7"/>
<text x="424.85" y="624.75" text-anchor="middle">24</text>
<path d="M65.2 520.95V608.25M60.7 608.25H451" stroke="#0a0a0a" stroke-width="1.9" fill="none"/>
<path d="M60.7 521.60H65.2" stroke="#0a0a0a" stroke-width="1.7"/>
<text x="57.70" y="526.20" text-anchor="end" font-size="13.1" textLength="24.3" lengthAdjust="spacingAndGlyphs">0.06</text>
<path d="M60.7 564.90H65.2" stroke="#0a0a0a" stroke-width="1.7"/>
<text x="57.70" y="570.00" text-anchor="end" font-size="13.1" textLength="24.3" lengthAdjust="spacingAndGlyphs">0.03</text>
<text x="56.90" y="613.90" text-anchor="end" font-size="13.1">0</text>
<text transform="translate(27.6 564.30) rotate(-90)" text-anchor="middle" font-size="12" textLength="106.6" lengthAdjust="spacingAndGlyphs">relative enrichment</text>
<text x="454.3" y="561.9" font-size="13.5" textLength="61" lengthAdjust="spacingAndGlyphs">H3K4me1</text>
<path d="M89.75 706.70V704.95M85.35 704.95H94.15" stroke="#0a0a0a" stroke-width="1.7" fill="none"/>
<rect x="81.35" y="706.70" width="16.8" height="28.80" fill="#e6e6e6" stroke="#0a0a0a" stroke-width="1.7"/>
<text x="89.75" y="752.00" text-anchor="middle">0</text>
<path d="M110.55 709.95V708.95M106.15 708.95H114.95" stroke="#0a0a0a" stroke-width="1.7" fill="none"/>
<rect x="102.15" y="709.95" width="16.8" height="25.55" fill="#e6e6e6" stroke="#0a0a0a" stroke-width="1.7"/>
<text x="110.55" y="752.00" text-anchor="middle">2</text>
<rect x="122.85" y="717.45" width="16.8" height="18.05" fill="#e6e6e6" stroke="#0a0a0a" stroke-width="1.7"/>
<text x="131.25" y="752.00" text-anchor="middle">4</text>
<path d="M151.95 712.95V710.45M147.55 710.45H156.35" stroke="#0a0a0a" stroke-width="1.7" fill="none"/>
<rect x="143.55" y="712.95" width="16.8" height="22.55" fill="#e6e6e6" stroke="#0a0a0a" stroke-width="1.7"/>
<text x="151.95" y="752.00" text-anchor="middle">6</text>
<path d="M172.55 715.95V714.70M168.15 714.70H176.95" stroke="#0a0a0a" stroke-width="1.7" fill="none"/>
<rect x="164.15" y="715.95" width="16.8" height="19.55" fill="#e6e6e6" stroke="#0a0a0a" stroke-width="1.7"/>
<text x="172.55" y="752.00" text-anchor="middle">24</text>
<path d="M214.95 716.70V715.95M210.55 715.95H219.35" stroke="#0a0a0a" stroke-width="1.7" fill="none"/>
<rect x="206.55" y="716.70" width="16.8" height="18.80" fill="#747474" stroke="#0a0a0a" stroke-width="1.7"/>
<text x="214.95" y="752.00" text-anchor="middle">0</text>
<path d="M236.05 722.45V720.45M231.65 720.45H240.45" stroke="#0a0a0a" stroke-width="1.7" fill="none"/>
<rect x="227.65" y="722.45" width="16.8" height="13.05" fill="#747474" stroke="#0a0a0a" stroke-width="1.7"/>
<text x="236.05" y="752.00" text-anchor="middle">2</text>
<path d="M256.95 714.20V712.95M252.55 712.95H261.35" stroke="#0a0a0a" stroke-width="1.7" fill="none"/>
<rect x="248.55" y="714.20" width="16.8" height="21.30" fill="#747474" stroke="#0a0a0a" stroke-width="1.7"/>
<text x="256.95" y="752.00" text-anchor="middle">4</text>
<path d="M277.95 712.95V709.95M273.55 709.95H282.35" stroke="#0a0a0a" stroke-width="1.7" fill="none"/>
<rect x="269.55" y="712.95" width="16.8" height="22.55" fill="#747474" stroke="#0a0a0a" stroke-width="1.7"/>
<text x="277.95" y="752.00" text-anchor="middle">6</text>
<path d="M299.05 654.20V650.45M294.65 650.45H303.45" stroke="#0a0a0a" stroke-width="1.7" fill="none"/>
<rect x="290.65" y="654.20" width="16.8" height="81.30" fill="#747474" stroke="#0a0a0a" stroke-width="1.7"/>
<text x="299.05" y="752.00" text-anchor="middle">24</text>
<path d="M340.45 727.45V724.95M336.05 724.95H344.85" stroke="#0a0a0a" stroke-width="1.7" fill="none"/>
<rect x="332.05" y="727.45" width="16.8" height="8.05" fill="#101010" stroke="#0a0a0a" stroke-width="1.7"/>
<text x="340.45" y="752.00" text-anchor="middle">0</text>
<path d="M361.25 730.75V729.55M356.85 729.55H365.65" stroke="#0a0a0a" stroke-width="1.7" fill="none"/>
<rect x="352.85" y="730.75" width="16.8" height="4.75" fill="#101010" stroke="#0a0a0a" stroke-width="1.7"/>
<text x="361.25" y="752.00" text-anchor="middle">2</text>
<path d="M382.45 730.25V729.05M378.05 729.05H386.85" stroke="#0a0a0a" stroke-width="1.7" fill="none"/>
<rect x="374.05" y="730.25" width="16.8" height="5.25" fill="#101010" stroke="#0a0a0a" stroke-width="1.7"/>
<text x="382.45" y="752.00" text-anchor="middle">4</text>
<path d="M403.55 728.45V727.35M399.15 727.35H407.95" stroke="#0a0a0a" stroke-width="1.7" fill="none"/>
<rect x="395.15" y="728.45" width="16.8" height="7.05" fill="#101010" stroke="#0a0a0a" stroke-width="1.7"/>
<text x="403.55" y="752.00" text-anchor="middle">6</text>
<path d="M424.85 730.25V729.15M420.45 729.15H429.25" stroke="#0a0a0a" stroke-width="1.7" fill="none"/>
<rect x="416.45" y="730.25" width="16.8" height="5.25" fill="#101010" stroke="#0a0a0a" stroke-width="1.7"/>
<text x="424.85" y="752.00" text-anchor="middle">24</text>
<path d="M65.2 647.95V735.50M60.7 735.50H451" stroke="#0a0a0a" stroke-width="1.9" fill="none"/>
<path d="M60.7 648.90H65.2" stroke="#0a0a0a" stroke-width="1.7"/>
<text x="58.30" y="652.60" text-anchor="end" font-size="13.1" textLength="24.3" lengthAdjust="spacingAndGlyphs">0.04</text>
<path d="M60.7 691.70H65.2" stroke="#0a0a0a" stroke-width="1.7"/>
<text x="57.70" y="697.20" text-anchor="end" font-size="13.1" textLength="24.3" lengthAdjust="spacingAndGlyphs">0.02</text>
<text x="56.90" y="741.20" text-anchor="end" font-size="13.1">0</text>
<text transform="translate(27.6 691.10) rotate(-90)" text-anchor="middle" font-size="12" textLength="106.6" lengthAdjust="spacingAndGlyphs">relative enrichment</text>
<text x="454.3" y="688.5" font-size="13.5" textLength="62.3" lengthAdjust="spacingAndGlyphs">H3K4me3</text>
<text x="189.2" y="774.6" font-size="13.5" textLength="135.4" lengthAdjust="spacingAndGlyphs">Pax5-ER cells + OHT (h)</text>
</g>
<text x="0.4" y="18" font-family='"Liberation Sans", sans-serif' font-weight="bold" font-size="25" fill="#050505">A</text>
<text x="1.1" y="243.5" font-family='"Liberation Sans", sans-serif' font-weight="bold" font-size="25" fill="#050505" stroke="#050505" stroke-width="0.5">B</text>
</svg>
</body></html>
